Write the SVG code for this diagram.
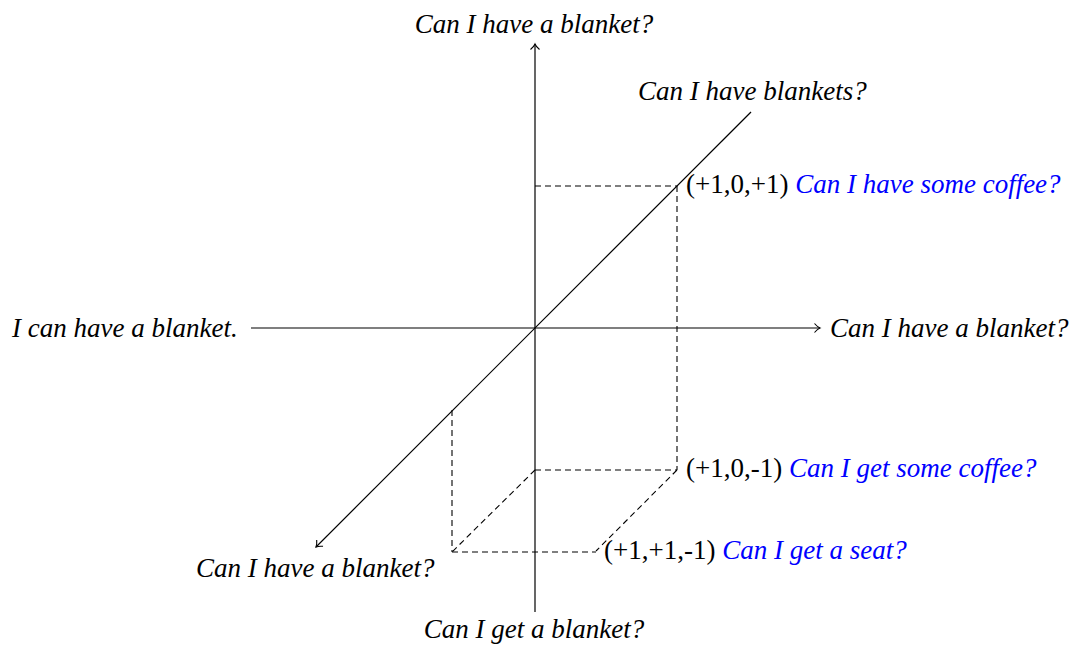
<svg xmlns="http://www.w3.org/2000/svg" width="1070" height="645" viewBox="0 0 1070 645">
<defs>
<style>
.ax{stroke:#000;stroke-width:1.2;fill:none}
.ds{stroke:#000;stroke-width:1.1;fill:none;stroke-dasharray:6 4}
text{font-family:"Liberation Serif","Times New Roman",serif;font-size:27px;fill:#000}
.it{font-style:italic}
.bl{fill:#0000ff;font-style:italic}
</style>
<marker id="ar" markerWidth="12" markerHeight="12" refX="8" refY="6" orient="auto" markerUnits="userSpaceOnUse">
<path d="M2.5 1.5 Q5.5 5 8 6 Q5.5 7 2.5 10.5" fill="none" stroke="#000" stroke-width="1.1"/>
</marker>
</defs>
<rect width="1070" height="645" fill="#fff"/>
<g id="connectors">
<line class="ax" x1="535" y1="612" x2="535" y2="44" marker-end="url(#ar)"/>
<line class="ax" x1="251" y1="328" x2="820" y2="328" marker-end="url(#ar)"/>
<line class="ax" x1="751" y1="112" x2="316" y2="547" marker-end="url(#ar)"/>
<line class="ds" x1="535" y1="186" x2="677" y2="186"/>
<line class="ds" x1="677" y1="186" x2="677" y2="470"/>
<line class="ds" x1="535" y1="470" x2="677" y2="470"/>
<line class="ds" x1="535" y1="470" x2="452" y2="552"/>
<line class="ds" x1="452" y1="410" x2="452" y2="552"/>
<line class="ds" x1="452" y1="552" x2="596" y2="552"/>
<line class="ds" x1="677" y1="470" x2="596" y2="551"/>
</g>
<g id="label-top"><text class="it" x="534" y="33" text-anchor="middle">Can I have a blanket?</text></g>
<g id="label-diag-top"><text class="it" x="638" y="100">Can I have blankets?</text></g>
<g id="label-left"><text class="it" x="12" y="337">I can have a blanket.</text></g>
<g id="label-right"><text class="it" x="830" y="337">Can I have a blanket?</text></g>
<g id="label-diag-bottom"><text class="it" x="196" y="577">Can I have a blanket?</text></g>
<g id="label-bottom"><text class="it" x="534" y="638" text-anchor="middle">Can I get a blanket?</text></g>
<g id="point-101"><text x="686" y="193">(+1,0,+1) <tspan class="bl">Can I have some coffee?</tspan></text></g>
<g id="point-10m1"><text x="686" y="477">(+1,0,-1) <tspan class="bl">Can I get some coffee?</tspan></text></g>
<g id="point-11m1"><text x="604" y="559">(+1,+1,-1) <tspan class="bl">Can I get a seat?</tspan></text></g>
</svg>
